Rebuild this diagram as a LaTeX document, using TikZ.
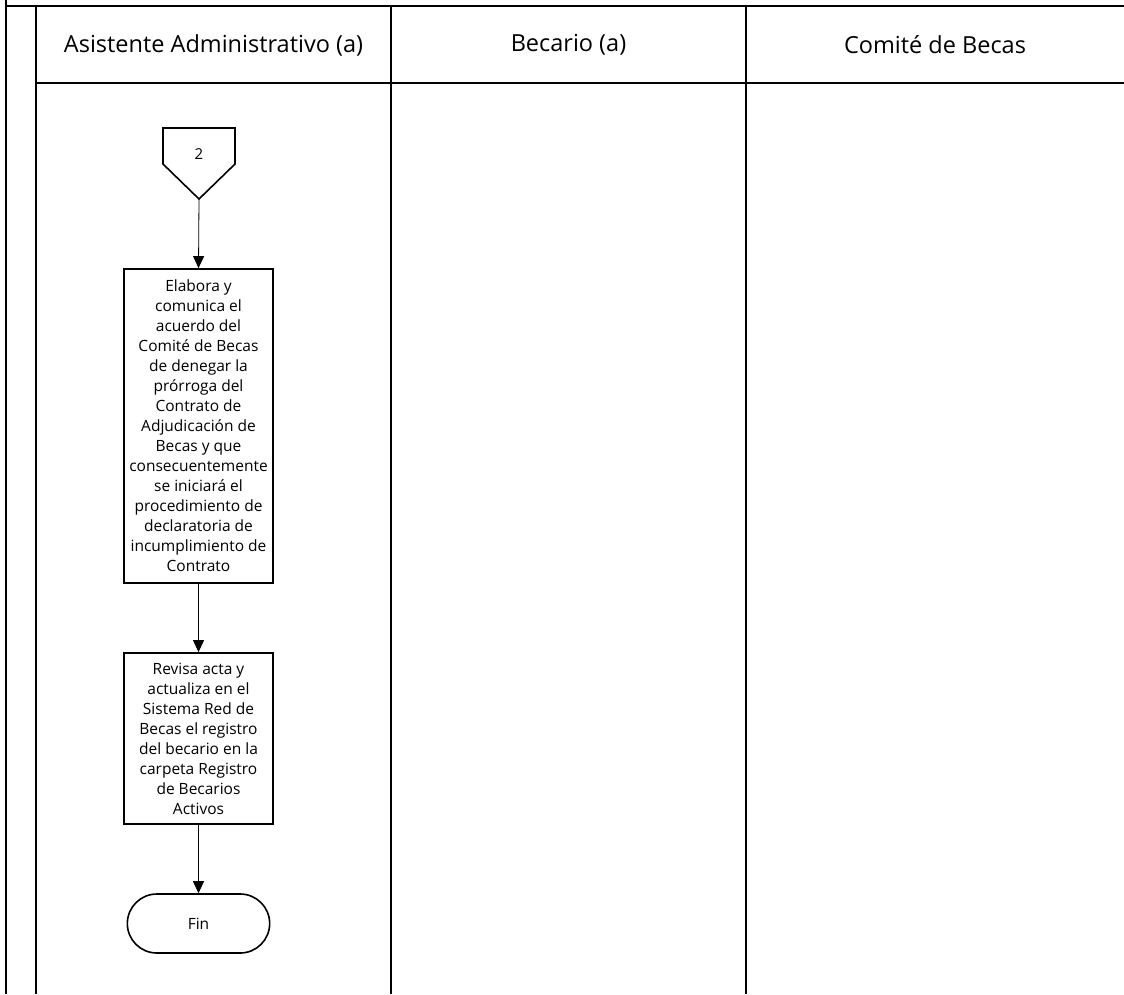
\documentclass[tikz,border=0pt]{standalone}
\usepackage{fontspec}
\setmainfont{Open Sans}
\usetikzlibrary{shapes.misc,arrows.meta}
\begin{document}
\begin{tikzpicture}[x=1pt,y=-1pt,
  lane/.style={line width=2pt,draw=black},
  proc/.style={draw,line width=1.8pt,minimum width=149pt,inner sep=0pt,align=center,font=\fontsize{15.5}{20}\selectfont},
  term/.style={draw,line width=1.6pt,rounded rectangle,minimum width=149pt,minimum height=59pt,font=\fontsize{15.5}{20}\selectfont},
  head/.style={font=\fontsize{23.5}{28}\selectfont},
  flow/.style={line width=0.8pt,-{Triangle[length=12pt,width=11pt]}}]
\useasboundingbox (0,0) rectangle (1124,994);
% lanes
\draw[lane] (6,0) -- (6,994);
\draw[lane] (6,6) -- (1124,6);
\draw[lane] (36,6) -- (36,994);
\draw[lane] (36,83) -- (1124,83);
\draw[lane] (391,6) -- (391,994);
\draw[lane] (746,6) -- (746,994);
\node[head] (h1) at (213.5,45) {Asistente Administrativo (a)};
\node[head] (h2) at (568.5,45) {Becario (a)};
\node[head] (h3) at (935,45) {Comité de Becas};
% off-page connector
\draw[line width=1.6pt] (163,128) -- (235,128) -- (235,164) -- (199,199) -- (163,164) -- cycle;
\node[font=\fontsize{15}{16}\selectfont] (c2) at (199,154) {2};
\coordinate (c2b) at (199,199);
% boxes
\node[proc,minimum height=314pt] (b1) at (198.5,426) {Elabora y\\comunica el\\acuerdo del\\Comité de Becas\\de denegar la\\prórroga del\\Contrato de\\Adjudicación de\\Becas y que\\consecuentemente\\se iniciará el\\procedimiento de\\declaratoria de\\incumplimiento de\\Contrato};
\node[proc,minimum height=171pt] (b2) at (198.5,738.5) {Revisa acta y\\actualiza en el\\Sistema Red de\\Becas el registro\\del becario en la\\carpeta Registro\\de Becarios\\Activos};
\node[term] (fin) at (198.5,923.5) {Fin};
\draw[flow] (c2b) -- (b1.north);
\draw[flow] (b1.south) -- (b2.north);
\draw[flow] (b2.south) -- (fin.north);
\end{tikzpicture}
\end{document}
